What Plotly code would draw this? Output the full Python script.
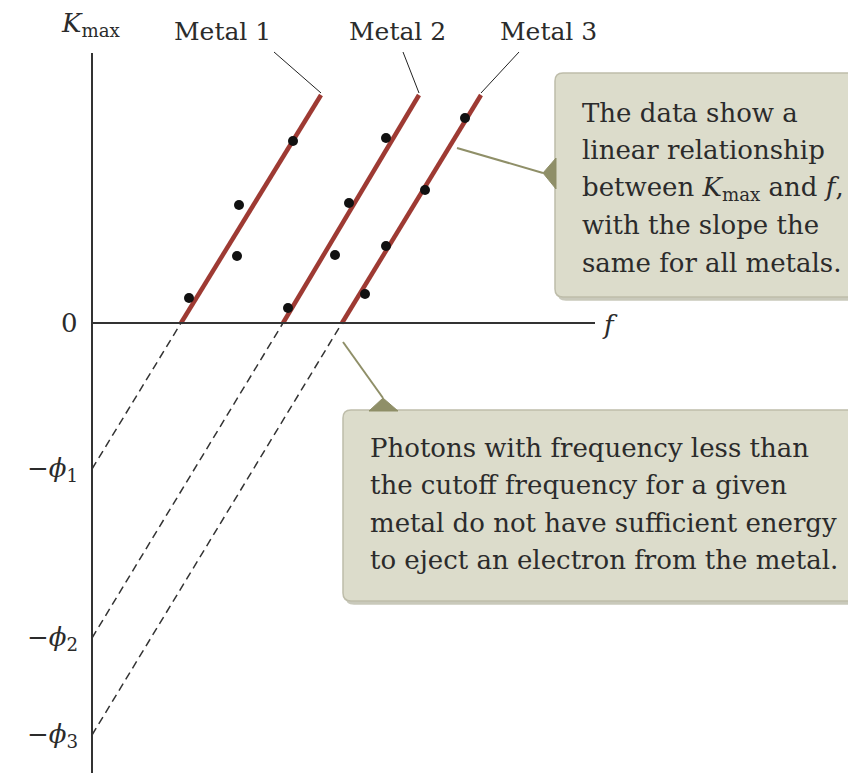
import plotly.graph_objects as go

# photoelectric effect: K_max vs f for three metals (arbitrary units)
metals = ["Metal 1", "Metal 2", "Metal 3"]
cutoff_f = [0.89, 1.91, 2.50]       # where each line crosses K = 0
work_fn = [1.46, 3.15, 4.12]        # phi, intercept is -phi
line_top_f = [2.29, 3.27, 3.89]
line_top_K = [2.28, 2.28, 2.28]

pts_f = [
    [0.97, 1.45, 1.47, 2.01],
    [1.96, 2.43, 2.57, 2.94],
    [2.73, 2.94, 3.33, 3.73],
]
pts_K = [
    [0.25, 0.67, 1.18, 1.82],
    [0.15, 0.68, 1.20, 1.85],
    [0.29, 0.77, 1.33, 2.05],
]
phi_labels = ["\u2212<i>\u03d5</i><sub>1</sub>", "\u2212<i>\u03d5</i><sub>2</sub>", "\u2212<i>\u03d5</i><sub>3</sub>"]

W, H = 848, 773
FONT = "DejaVu Serif"
RED = "#9e3a33"
BOX_FILL = "#dcdccb"
BOX_LINE = "#bebdaa"
OLIVE = "#8f8f68"
INK = "#2b2b2b"

fig = go.Figure()

for i in range(3):
    # dashed extrapolation down to -phi
    fig.add_trace(go.Scatter(x=[0, cutoff_f[i]], y=[-work_fn[i], 0], mode="lines",
                             line=dict(color="#333333", width=1.5, dash="8px,5px"),
                             hoverinfo="skip"))
    fig.add_trace(go.Scatter(x=[cutoff_f[i], line_top_f[i]], y=[0, line_top_K[i]], mode="lines",
                             line=dict(color=RED, width=4.5), hoverinfo="skip"))
    fig.add_trace(go.Scatter(x=pts_f[i], y=pts_K[i], mode="markers",
                             marker=dict(color="#111111", size=10), name=metals[i]))

# axes drawn by hand
fig.add_shape(type="line", xref="x", yref="y", x0=0, x1=0, y0=-4.5, y1=2.70,
              line=dict(color="#333333", width=2))
fig.add_shape(type="line", xref="x", yref="y", x0=0, x1=5.03, y0=0, y1=0,
              line=dict(color="#333333", width=2))

ann = []
ann.append(dict(x=91 / W, y=1 - 25 / H, xref="paper", yref="paper", xanchor="center",
                text="<i>K</i><sub>max</sub>", font=dict(size=26)))
ann.append(dict(x=-0.12, y=0, text="0", xanchor="right", font=dict(size=26)))
ann.append(dict(x=5.08, y=-0.02, text="<i>f</i>", xanchor="left", font=dict(size=26)))
for i in range(3):
    ann.append(dict(x=-0.12, y=-work_fn[i], text=phi_labels[i], xanchor="right",
                    font=dict(size=26)))

# metal labels with leader lines
label_cx = [222, 397, 548]
leader_x0 = [274, 403, 519]
for i in range(3):
    ann.append(dict(x=label_cx[i] / W, y=1 - 32 / H, xref="paper", yref="paper",
                    xanchor="center", text=metals[i], font=dict(size=25)))
    fig.add_shape(type="line", xref="paper", yref="paper",
                  x0=leader_x0[i] / W, y0=1 - 52 / H, x1=(line_top_f[i] + 0.92) / 8.48,
                  y1=1 - 93 / H, line=dict(color="#222222", width=1))


def box(x0, y0, x1, y1, r=8):
    p = [
        f"M {x0 + r},{y0}", f"L {x1 - r},{y0}", f"Q {x1},{y0} {x1},{y0 + r}",
        f"L {x1},{y1 - r}", f"Q {x1},{y1} {x1 - r},{y1}", f"L {x0 + r},{y1}",
        f"Q {x0},{y1} {x0},{y1 - r}", f"L {x0},{y0 + r}", f"Q {x0},{y0} {x0 + r},{y0}", "Z",
    ]
    return " ".join(p)


def add_box(x0, y0, x1, y1):
    # shadow then box, built in pixel space and converted to paper
    for dx, col in [(3, "#c9c9bb"), (0, BOX_FILL)]:
        pts = box(x0 + dx, y0 + dx, x1 + dx, y1 + dx)
        out = []
        for tok in pts.split(" "):
            if "," in tok:
                a, b = tok.split(",")
                out.append(f"{float(a) / W:.5f},{1 - float(b) / H:.5f}")
            else:
                out.append(tok)
        fig.add_shape(type="path", xref="paper", yref="paper", path=" ".join(out),
                      fillcolor=col, line=dict(color=BOX_LINE if dx == 0 else col, width=1.5),
                      layer="below")


def add_pointer(line_pts, tri_pts):
    (ax, ay), (bx, by) = line_pts
    fig.add_shape(type="line", xref="paper", yref="paper",
                  x0=ax / W, y0=1 - ay / H, x1=bx / W, y1=1 - by / H,
                  line=dict(color=OLIVE, width=2))
    path = "M " + " L ".join(f"{x / W:.5f},{1 - y / H:.5f}" for x, y in tri_pts) + " Z"
    fig.add_shape(type="path", xref="paper", yref="paper", path=path,
                  fillcolor=OLIVE, line=dict(color=OLIVE, width=1))


add_box(555, 73, 870, 297)
add_pointer([(457, 148), (543, 173)], [(543, 173), (556, 158), (556, 189)])
add_box(343, 410, 870, 601)
add_pointer([(343, 342), (383, 398)], [(383, 398), (369, 411), (398, 411)])

upper_lines = ["The data show a", "linear relationship",
               "between <i>K</i><sub>max</sub> and <i>f</i>,",
               "with the slope the", "same for all metals."]
upper_y = [113, 150, 188, 225, 263]
for t, y in zip(upper_lines, upper_y):
    ann.append(dict(x=580 / W, y=1 - y / H, xref="paper", yref="paper", text=t,
                    xanchor="left", font=dict(size=26)))

lower_lines = ["Photons with frequency less than", "the cutoff frequency for a given",
               "metal do not have sufficient energy", "to eject an electron from the metal."]
lower_y = [448, 485, 523, 560]
for t, y in zip(lower_lines, lower_y):
    ann.append(dict(x=368 / W, y=1 - y / H, xref="paper", yref="paper", text=t,
                    xanchor="left", font=dict(size=26)))

for a in ann:
    a.setdefault("xref", "x")
    a.setdefault("yref", "y")
    a["showarrow"] = False
    a["font"] = dict(family=FONT, color=INK, size=a["font"]["size"])
    a.setdefault("yanchor", "middle")

fig.update_layout(
    width=W, height=H, autosize=False,
    margin=dict(l=0, r=0, t=0, b=0),
    paper_bgcolor="white", plot_bgcolor="white",
    showlegend=False,
    xaxis=dict(range=[-0.92, 7.56], visible=False),
    yaxis=dict(range=[-4.50, 3.23], visible=False),
    annotations=ann,
)

# page has a default 8px body margin; drop it so the figure fills the window
fig.write_html("out.html", config={"displayModeBar": False},
               post_script="document.body.style.margin='0';")
